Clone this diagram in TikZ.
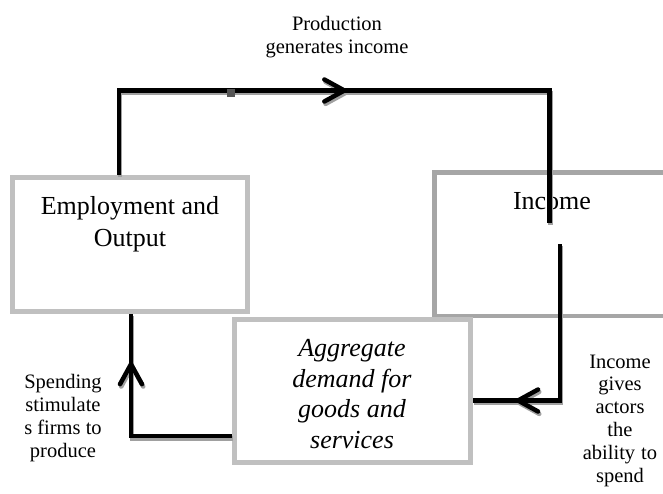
\documentclass[tikz,border=0pt]{standalone}
\usepackage{fontspec}
\setmainfont{Liberation Serif}
\usetikzlibrary{decorations.markings}
\definecolor{boxgray}{HTML}{C0C0C0}
\definecolor{incgray}{HTML}{A6A6A6}
\definecolor{shadegray}{HTML}{A0A0A0}
\definecolor{markgray}{HTML}{555555}
\tikzset{
  panel/.style={rectangle, draw=boxgray, line width=5pt, fill=white, inner sep=0pt},
  bigtext/.style={font=\fontsize{26}{32}\selectfont, align=center, inner sep=0pt, anchor=north},
  note/.style={font=\fontsize{20.5}{22.8}\selectfont, align=center, inner sep=0pt, anchor=north},
  flow/.style={line width=4.5pt, line cap=butt, line join=miter},
  flowink/.style={flow, color=black},
  flowshade/.style={flow, color=shadegray, transform canvas={shift={(1.2pt,-2.4pt)}}},
  chevron at/.style={postaction={decorate, decoration={markings,
      mark=at position #1 with {\draw[line width=4.5pt, line cap=round, line join=miter]
        (-20pt,-11pt) -- (0pt,0pt) -- (-20pt,11pt);}}}}
}
\begin{document}
\begin{tikzpicture}[x=1pt, y=-1pt]
  \clip (0,0) rectangle (663,493);
  \fill[white] (0,0) rectangle (663,493);

  % the three sectors of the flow
  \node[panel, minimum width=235pt, minimum height=134pt] (emp) at (130,244.5) {};
  \node[panel, draw=incgray, line width=4.5pt, minimum width=265.5pt, minimum height=143.5pt] (inc) at (567.25,244.25) {};
  \node[panel, minimum width=236pt, minimum height=143.5pt] (agg) at (352.5,390.75) {};

  \node[bigtext] (emptext) at (130,196) {Employment and\\Output};
  \node[bigtext] (inctext) at (552,191.8) {Income};
  \node[bigtext, font=\fontsize{26}{30.7}\selectfont\itshape] (aggtext) at (352,339)
    {Aggregate\\demand for\\goods and\\services};

  % captions of the arrows
  \node[note] (prodnote) at (337,16) {Production\\generates income};
  \node[note] (spendnote) at (63,374.3) {Spending\\stimulate\\s firms to\\produce};
  \node[note] (incnote) at (620,354.4) {Income\\gives\\actors\\the\\ability\hspace{6pt}to\\spend};

  % loose ends of the connectors inside the income panel
  \coordinate (topend) at (549.5,223);
  \coordinate (incstart) at (560,244);

  % connectors: a grey drop shadow first, then the black line
  \foreach \look in {flowshade, flowink} {
    \draw[\look, chevron at=0.4785]
      (119,0 |- emp.north) -- (119,90.5) -- (549.5,90.5) -- (topend);
    \draw[\look, chevron at=0.815]
      (incstart) -- (560,400.5) -- (agg.east |- 0,400.5);
    \draw[\look, chevron at=0.775]
      (agg.west |- 0,436) -- (131,436) -- (131,0 |- emp.south);
  }
  % small joint mark on the top line
  \fill[markgray] (227,88.5) rectangle (235,96.5);
\end{tikzpicture}
\end{document}
